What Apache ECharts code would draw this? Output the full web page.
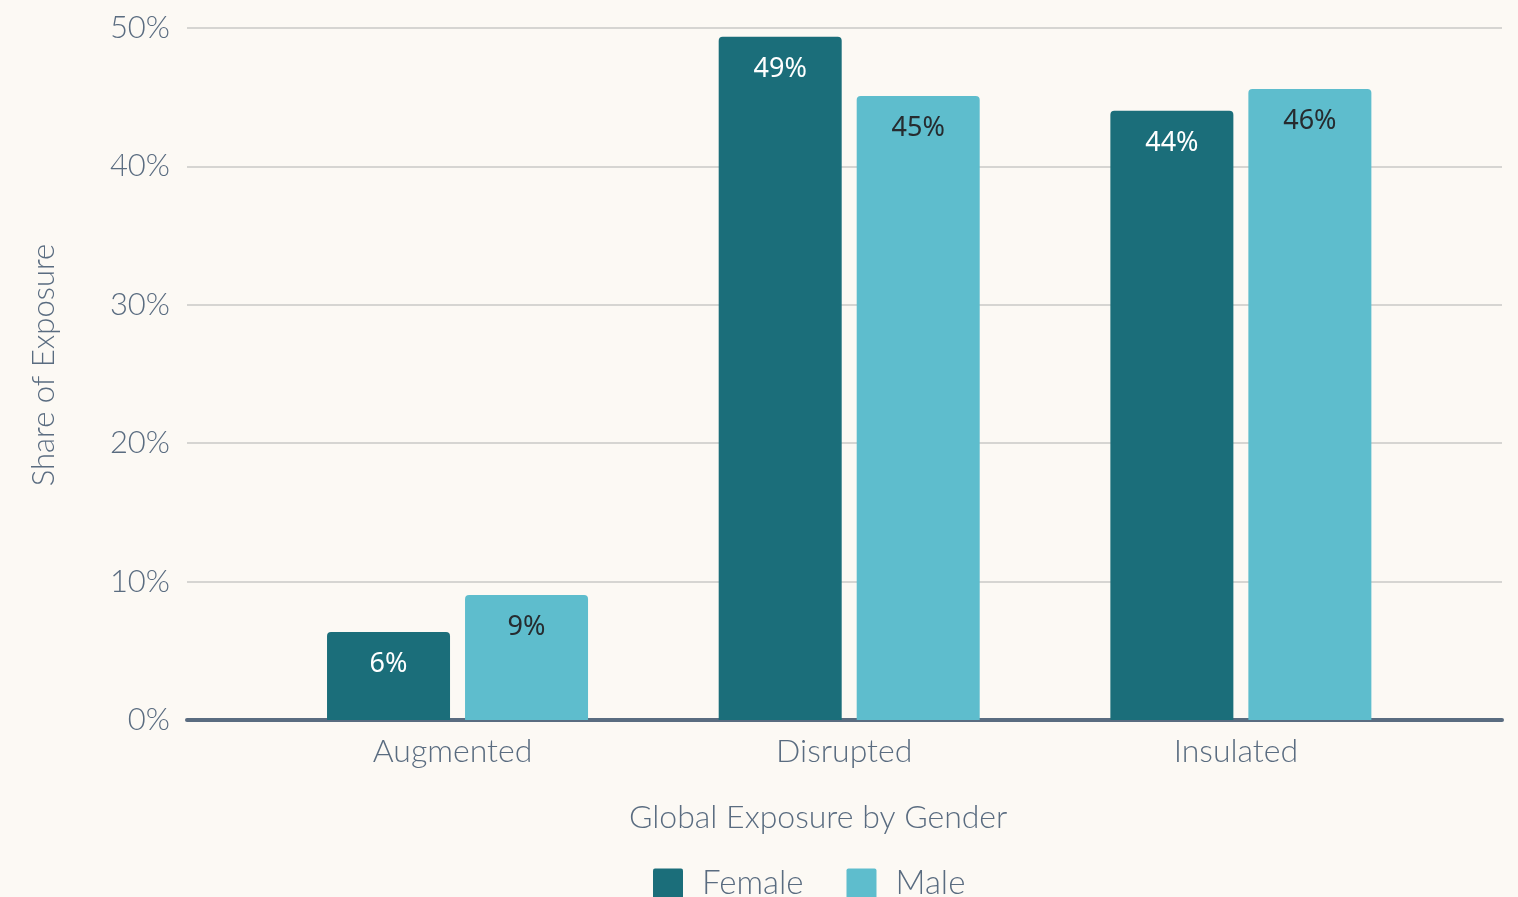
<!DOCTYPE html>
<html>
<head>
<meta charset="utf-8">
<script src="https://cdn.jsdelivr.net/npm/echarts@6/dist/echarts.min.js"></script>
<style>
html,body{margin:0;padding:0;background:#fcf9f4;}
#chart{width:1518px;height:897px;}
</style>
</head>
<body>
<div id="chart"></div>
<script>
const categories = ['Augmented', 'Disrupted', 'Insulated'];
const female = [6.36, 49.37, 44.02];
const male = [9.03, 45.09, 45.6];
const yTicks = [0, 10, 20, 30, 40, 50];
const seriesNames = ['Female', 'Male'];

const txt = '#5a6c80';
const font = 'Lato';
const chart = echarts.init(document.getElementById('chart'));
chart.setOption({
  backgroundColor: '#fcf9f4',
  animation: false,
  title: {
    text: 'Global Exposure by Gender',
    left: 624, top: 797,
    textStyle: {fontFamily: font, fontSize: 32, fontWeight: 300, color: txt}
  },
  legend: {
    data: seriesNames,
    left: 648, top: 862,
    itemWidth: 30, itemHeight: 30, itemGap: 43,
    icon: 'path://M2,0 L28,0 Q30,0 30,2 L30,28 Q30,30 28,30 L2,30 Q0,30 0,28 L0,2 Q0,0 2,0 Z',
    textStyle: {fontFamily: font, fontSize: 33, fontWeight: 300, color: txt, padding: [0, 0, 0, 14]}
  },
  grid: [
    {left: 187, right: 16, top: 28, bottom: 177},
    {left: 261.7, right: 81.3, top: 28, bottom: 177}
  ],
  xAxis: [
    {gridIndex: 0, type: 'category', data: [''], offset: 2,
     axisLine: {show: true, lineStyle: {color: '#5a6c80', width: 4}},
     axisTick: {show: false}, axisLabel: {show: false}, splitLine: {show: false}},
    {gridIndex: 1, type: 'category', data: categories,
     axisLine: {show: false}, axisTick: {show: false},
     axisLabel: {fontFamily: font, fontSize: 32, fontWeight: 300, color: txt, margin: 16, padding: [0, 10, 0, 0]}}
  ],
  yAxis: [
    {gridIndex: 0, type: 'value', min: yTicks[0], max: yTicks[yTicks.length - 1], interval: 10,
     name: 'Share of Exposure', nameLocation: 'middle', nameGap: 128,
     nameTextStyle: {fontFamily: font, fontSize: 31, fontWeight: 300, color: txt, padding: [0, 0, 0, 18]},
     axisLine: {show: false}, axisTick: {show: false},
     axisLabel: {formatter: '{value}%', fontFamily: font, fontSize: 31, fontWeight: 300, color: txt, margin: 17},
     splitLine: {lineStyle: {color: '#d6d5d2', width: 2}}},
    {gridIndex: 1, type: 'value', min: 0, max: 50, show: false, splitLine: {show: false}}
  ],
  series: [
    {name: seriesNames[0], type: 'bar', xAxisIndex: 1, yAxisIndex: 1, data: female,
     barWidth: 123, barGap: '12.2%',
     itemStyle: {color: '#1b6e7a', borderRadius: [4, 4, 0, 0]},
     label: {show: true, position: 'insideTop', distance: 19,
       formatter: p => Math.round(p.value) + '%',
       fontFamily: 'Noto Sans', fontSize: 27, color: '#ffffff'}},
    {name: seriesNames[1], type: 'bar', xAxisIndex: 1, yAxisIndex: 1, data: male,
     barWidth: 123,
     itemStyle: {color: '#5ebdcd', borderRadius: [4, 4, 0, 0]},
     label: {show: true, position: 'insideTop', distance: 19,
       formatter: p => Math.round(p.value) + '%',
       fontFamily: 'Noto Sans', fontSize: 27, color: '#262b2f'}}
  ]
});
</script>
</body>
</html>
